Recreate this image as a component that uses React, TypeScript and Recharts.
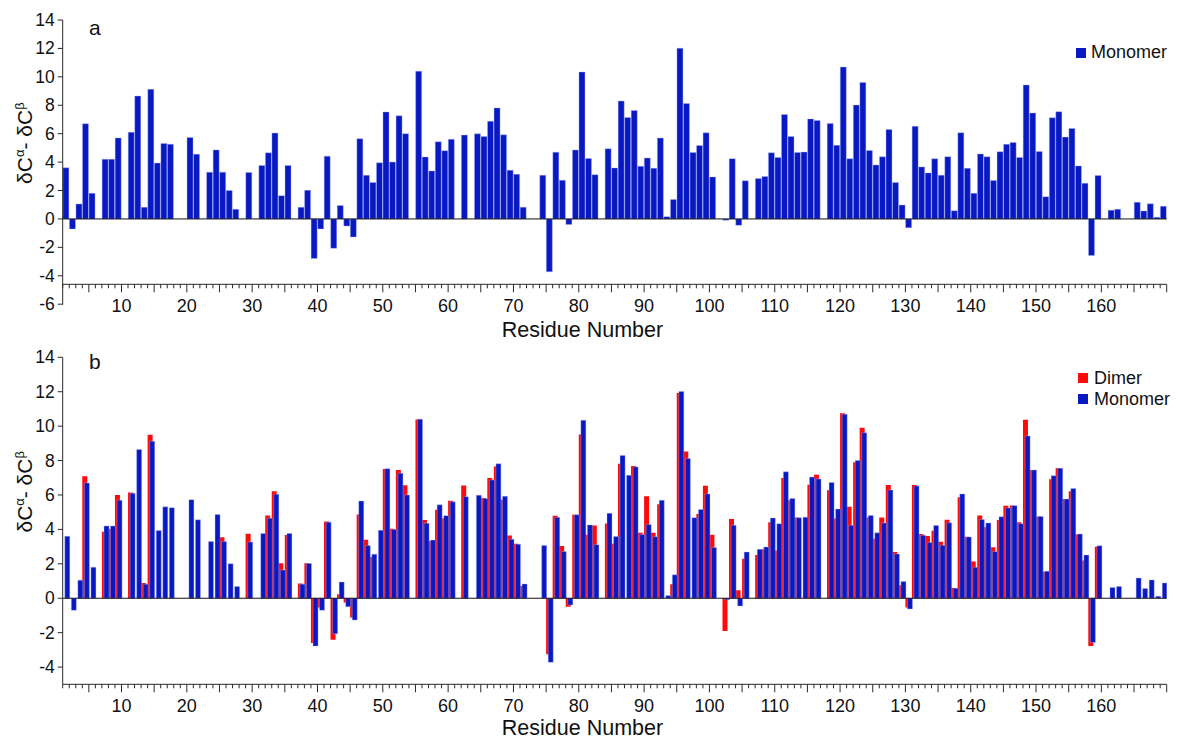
import React from "react";
import { Bar, BarChart, Legend, ReferenceLine, XAxis, YAxis } from "recharts";

// residue numbers 1..169 (one bar slot each)
const residues = Array.from({ length: 169 }, (_, i) => i + 1);

// δCα - δCβ, monomer (panel a and blue bars in panel b)
const monomer: (number | null)[] = [
  3.6, -0.7, 1.05, 6.7, 1.8, null, 4.2, 4.2, 5.7, null,
  6.1, 8.65, 0.82, 9.12, 3.93, 5.31, 5.26, null, null, 5.73,
  4.56, null, 3.29, 4.86, 3.29, 2.0, 0.68, null, 3.27, null,
  3.76, 4.65, 6.04, 1.64, 3.76, null, 0.82, 2.02, -2.78, -0.7,
  4.42, -2.07, 0.94, -0.5, -1.27, 5.65, 3.07, 2.56, 3.95, 7.53,
  4.0, 7.26, 6.0, null, 10.4, 4.36, 3.38, 5.43, 4.8, 5.6,
  null, 5.9, null, 5.99, 5.8, 6.87, 7.81, 5.92, 3.43, 3.14,
  0.83, null, null, 3.07, -3.72, 4.7, 2.72, -0.39, 4.85, 10.34,
  4.26, 3.11, null, 4.94, 3.59, 8.3, 7.14, 7.63, 3.7, 4.29,
  3.57, 5.69, 0.16, 1.36, 12.02, 8.12, 4.68, 5.16, 6.06, 2.95,
  null, -0.09, 4.24, -0.45, 2.68, null, 2.84, 2.98, 4.66, 4.33,
  7.35, 5.8, 4.68, 4.71, 7.04, 6.93, null, 6.72, 5.18, 10.69,
  4.24, 8.01, 9.61, 4.81, 3.8, 4.37, 6.29, 2.57, 0.98, -0.62,
  6.52, 3.66, 3.24, 4.23, 3.08, 4.38, 0.58, 6.06, 3.56, 1.8,
  4.57, 4.37, 2.71, 4.73, 5.25, 5.38, 4.33, 9.43, 7.45, 4.75,
  1.57, 7.12, 7.55, 5.76, 6.37, 3.73, 2.51, -2.57, 3.05, null,
  0.62, 0.68, null, null, 1.17, 0.56, 1.06, 0.12, 0.89,
];

// δCα - δCβ, dimer (red bars in panel b)
const dimer: (number | null)[] = [
  null, null, null, 7.09, null, null, 3.86, 4.04, 6.0, null,
  6.14, null, 0.89, 9.5, null, null, null, null, null, null,
  null, null, null, null, 3.55, null, null, null, 3.75, null,
  null, 4.81, 6.22, 2.03, 3.67, null, 0.85, 2.03, -2.6, -0.54,
  4.46, -2.41, 0.23, -0.25, -1.12, 4.87, 3.4, 2.39, null, 7.51,
  4.04, 7.45, 6.56, null, 10.39, 4.54, 3.32, 5.14, 4.63, 5.66,
  null, 6.55, null, null, 5.83, 6.99, 7.65, 5.73, 3.65, 3.17,
  0.71, null, null, null, -3.26, 4.79, 3.03, -0.5, 4.85, 9.52,
  3.69, 4.23, null, 4.34, 3.17, 7.82, null, 7.68, 3.8, 5.93,
  3.8, 5.46, null, 0.81, 11.93, 8.53, null, 4.9, 6.53, 3.69,
  null, -1.91, 4.61, 0.46, 2.3, null, 2.51, 2.84, 4.42, 2.78,
  6.99, 5.7, 4.69, null, 6.6, 7.18, null, 6.28, 4.63, 10.75,
  5.31, 7.9, 9.91, 4.69, 3.46, 4.69, 6.58, 2.68, 0.75, -0.54,
  6.58, 3.73, 3.61, 3.92, 3.28, 4.56, 0.6, 5.87, 3.57, 2.14,
  4.81, 4.13, 2.97, 4.54, 5.37, 5.39, 4.42, 10.37, 7.45, 4.75,
  1.54, 6.91, 7.55, 5.77, 6.22, 3.71, 2.2, -2.78, 2.99, null,
  null, null, null, null, null, null, null, null, null,
];

const yTicksA = [-6, -4, -2, 0, 2, 4, 6, 8, 10, 12, 14];
const yTicksB = [-4, -2, 0, 2, 4, 6, 8, 10, 12, 14];
const xTicks = Array.from({ length: 170 }, (_, i) => i + 1);
const xLabels = [10, 20, 30, 40, 50, 60, 70, 80, 90, 100, 110, 120, 130, 140, 150, 160];

const rows = residues.map((r, i) => ({
  x: r + 0.5,
  residue: r,
  Monomer: monomer[i],
  Dimer: dimer[i],
}));

const FONT = "Arial, 'Liberation Sans', sans-serif";
const AXIS = "#2a2a2a";
const BLUE = "#0818c2";
const RED = "#ff0a0a";

function XTick(props: any) {
  const { x, y, payload } = props;
  const v = payload.value;
  const major = v % 5 === 0;
  return (
    <g>
      <line x1={x} x2={x} y1={y} y2={y + (major ? 8 : 4)} stroke={AXIS} strokeWidth={1} />
      {xLabels.includes(v) ? (
        <text x={x} y={y + 27.6} textAnchor="middle" fontSize={18} fill="#111" fontFamily={FONT}>
          {v}
        </text>
      ) : null}
    </g>
  );
}

// ext: length of the y-axis line that runs below the x axis down to -6 (panel a)
const makeYTick = (ext: number) => (props: any) => {
  const { x, y, payload } = props;
  return (
    <g>
      <text x={x} y={y} textAnchor="end" dominantBaseline="central" fontSize={17.5} fill="#111" fontFamily={FONT}>
        {payload.value}
      </text>
      {ext > 0 && payload.value === -6 ? (
        <line x1={x + 8} x2={x + 8} y1={y + 0.5} y2={y - ext} stroke={AXIS} strokeWidth={1} />
      ) : null}
    </g>
  );
};

const yTitle = (shift: number) => (p: any) => {
  const vb = p.viewBox;
  const cx = vb.x + 29.5;
  const cy = vb.y + vb.height / 2 - shift;
  return (
    <text
      x={cx}
      y={cy}
      transform={`rotate(-90, ${cx}, ${cy})`}
      textAnchor="middle"
      fontSize={21}
      fill="#111"
      fontFamily={FONT}
    >
      δC<tspan dy={-8} fontSize={13}>α</tspan>
      <tspan dy={8}>- δC</tspan>
      <tspan dy={-8} fontSize={13}>β</tspan>
    </text>
  );
};

const xTitle = (dy: number) => (p: any) => {
  const vb = p.viewBox;
  return (
    <text x={vb.x + 519.8} y={vb.y + dy} textAnchor="middle" fontSize={21.5} fill="#111" fontFamily={FONT}>
      Residue Number
    </text>
  );
};

const legendContent = (gap: number) => (p: any) => (
  <div>
    {(p.payload || []).map((e: any) => (
      <div key={e.value} style={{ display: "flex", alignItems: "center", height: 21 }}>
        <span style={{ width: 10, height: 10, background: e.color, marginRight: gap, display: "inline-block" }} />
        <span style={{ fontSize: 18, color: "#111", fontFamily: FONT, lineHeight: "21px" }}>{e.value}</span>
      </div>
    ))}
  </div>
);

function PanelLetter({ text, top }: { text: string; top: number }) {
  return (
    <div
      style={{
        position: "absolute",
        left: 89,
        top,
        fontSize: 21,
        lineHeight: "20px",
        fontFamily: FONT,
        color: "#111",
      }}
    >
      {text}
    </div>
  );
}

export default function App() {
  return (
    <div style={{ position: "absolute", left: 0, top: 0, width: 1182, height: 743, background: "#fff" }}>
      <div style={{ position: "absolute", left: 0, top: 0 }}>
        <BarChart
          width={1182}
          height={346}
          data={rows}
          margin={{ top: 20, right: 15.3, bottom: 11.7, left: 2.7 }}
          barCategoryGap={0.2}
        >
          <XAxis
            dataKey="x"
            type="number"
            domain={[1, 170]}
            allowDataOverflow
            ticks={xTicks}
            interval={0}
            tickSize={0}
            tickMargin={0}
            tickLine={false}
            tick={XTick}
            axisLine={{ stroke: AXIS }}
            height={50}
            label={{ content: xTitle(52.7) }}
          />
          <YAxis
            type="number"
            domain={[-4.6, 14]}
            allowDataOverflow
            ticks={yTicksA}
            interval={0}
            width={60}
            tickSize={5}
            tickMargin={3}
            tick={makeYTick(19.9)}
            tickLine={{ stroke: AXIS }}
            axisLine={{ stroke: AXIS }}
            label={{ content: yTitle(9) }}
          />
          <Bar dataKey="Monomer" fill={BLUE} stroke="#a9b2f2" strokeWidth={0.4} isAnimationActive={false} />
          <ReferenceLine y={0} stroke="#111" strokeWidth={1} />
          <Legend
            layout="vertical"
            verticalAlign="middle"
            align="center"
            wrapperStyle={{ top: 42, left: 1076, width: 110 }}
            content={legendContent(5)}
          />
        </BarChart>
      </div>
      <div style={{ position: "absolute", left: 0, top: 340 }}>
        <BarChart
          width={1182}
          height={403}
          data={rows}
          margin={{ top: 17.3, right: 15.3, bottom: 8.7, left: 2.7 }}
          barCategoryGap={0}
          barGap={-2.9}
        >
          <XAxis
            dataKey="x"
            type="number"
            domain={[1, 170]}
            allowDataOverflow
            ticks={xTicks}
            interval={0}
            tickSize={0}
            tickMargin={0}
            tickLine={false}
            tick={XTick}
            axisLine={{ stroke: AXIS }}
            height={50}
            label={{ content: xTitle(50.7) }}
          />
          <YAxis
            type="number"
            domain={[-5, 14]}
            allowDataOverflow
            ticks={yTicksB}
            interval={0}
            width={60}
            tickSize={5}
            tickMargin={3}
            tick={makeYTick(0)}
            tickLine={{ stroke: AXIS }}
            axisLine={{ stroke: AXIS }}
            label={{ content: yTitle(29) }}
          />
          <Bar dataKey="Dimer" fill={RED} isAnimationActive={false} />
          <Bar dataKey="Monomer" fill={BLUE} stroke="#a9b2f2" strokeWidth={0.4} isAnimationActive={false} />
          <ReferenceLine y={0} stroke="#111" strokeWidth={1} />
          <Legend
            layout="vertical"
            verticalAlign="middle"
            align="center"
            wrapperStyle={{ top: 27.5, left: 1078, width: 110 }}
            content={legendContent(6)}
          />
        </BarChart>
      </div>
      <PanelLetter text="a" top={18} />
      <PanelLetter text="b" top={352} />
    </div>
  );
}
